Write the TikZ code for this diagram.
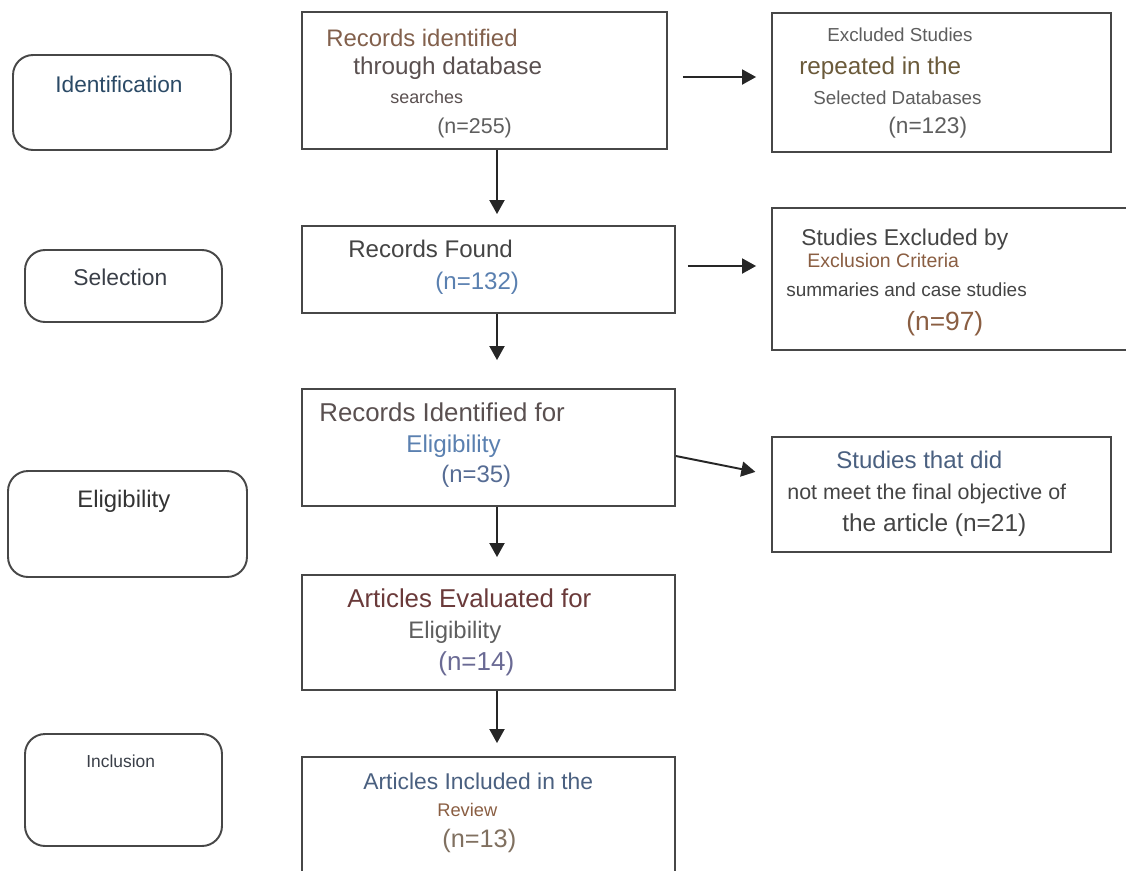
\documentclass[tikz,border=0pt]{standalone}
\usepackage{fontspec}
\setmainfont{Liberation Sans}
\usetikzlibrary{arrows.meta}

\newcommand{\fsz}[1]{\fontsize{#1pt}{#1pt}\selectfont}

\definecolor{boxline}{HTML}{474747}
\definecolor{stageblue}{HTML}{2B4A66}
\definecolor{stagegray}{HTML}{3A3F48}
\definecolor{darktext}{HTML}{444444}
\definecolor{midtext}{HTML}{5E5E5E}
\definecolor{brown}{HTML}{82604C}
\definecolor{olive}{HTML}{6B5A3A}
\definecolor{rust}{HTML}{8A5E42}
\definecolor{numblue}{HTML}{5A80B0}
\definecolor{slate}{HTML}{4A6080}
\definecolor{wine}{HTML}{6A3A3A}
\definecolor{lilac}{HTML}{6A6A94}
\definecolor{taupe}{HTML}{807060}
\definecolor{graybrown}{HTML}{5A5050}
\definecolor{softblue}{HTML}{566C94}

\tikzset{
  stage/.style={draw=boxline, line width=1.1pt, rounded corners=0.4cm, inner sep=0pt},
  record/.style={draw=boxline, line width=1.1pt, inner sep=0pt},
  txt/.style={anchor=base west, inner sep=0pt},
  arrow/.style={-{Triangle[width=0.3cm,length=0.28cm]}, line width=1.1pt, draw=black!85}
}

\begin{document}
\begin{tikzpicture}[x=0.02cm, y=-0.02cm]
    % Canvas
    \useasboundingbox (0,0) rectangle (1126,870);
    \fill[white] (0,0) rectangle (1126,870);
    \clip (0,0) rectangle (1126,870);

    % Stage boxes on the left
    \node[stage, minimum width=4.36cm, minimum height=1.9cm] (ident) at (122,102.5) {};
    \node[stage, minimum width=3.94cm, minimum height=1.44cm] (select) at (123.5,286) {};
    \node[stage, minimum width=4.78cm, minimum height=2.12cm] (elig) at (127.5,524) {};
    \node[stage, minimum width=3.94cm, minimum height=2.24cm] (incl) at (123.5,790) {};

    \node[txt, text=stageblue, font=\fsz{12.9}] (identtxt) at (55,92) {Identification};
    \node[txt, text=stagegray, font=\fsz{13}] (selecttxt) at (73,285) {Selection};
    \node[txt, text=black!80, font=\fsz{13.6}] (eligtxt) at (77,507) {Eligibility};
    \node[txt, text=stagegray, font=\fsz{9.9}] (incltxt) at (86,767) {Inclusion};

    % Main column
    \node[record, minimum width=7.3cm, minimum height=2.74cm] (b1) at (484.5,80.5) {};
    \node[record, minimum width=7.46cm, minimum height=1.74cm] (b2) at (488.5,269.5) {};
    \node[record, minimum width=7.46cm, minimum height=2.34cm] (b3) at (488.5,447.5) {};
    \node[record, minimum width=7.46cm, minimum height=2.3cm] (b4) at (488.5,632.5) {};
    \node[record, minimum width=7.46cm, minimum height=2.86cm] (b5) at (488.5,828.5) {};

    \node[txt, text=brown, font=\fsz{13.6}] (b1a) at (326,46) {Records identified};
    \node[txt, text=graybrown, font=\fsz{13.8}] (b1b) at (353,74) {through database};
    \node[txt, text=graybrown, font=\fsz{10.2}] (b1c) at (390,103) {searches};
    \node[txt, text=midtext, font=\fsz{12.2}] (b1d) at (437,133) {(n=255)};

    \node[txt, text=darktext, font=\fsz{13.7}] (b2a) at (348,257) {Records Found};
    \node[txt, text=numblue, font=\fsz{13.7}] (b2b) at (435,289) {(n=132)};

    \node[txt, text=graybrown, font=\fsz{14.7}] (b3a) at (319,421) {Records Identified for};
    \node[txt, text=numblue, font=\fsz{13.8}] (b3b) at (406,452) {Eligibility};
    \node[txt, text=softblue, font=\fsz{13.6}] (b3c) at (441,482) {(n=35)};

    \node[txt, text=wine, font=\fsz{14.7}] (b4a) at (347,607) {Articles Evaluated for};
    \node[txt, text=midtext, font=\fsz{13.6}] (b4b) at (408,638) {Eligibility};
    \node[txt, text=lilac, font=\fsz{14.8}] (b4c) at (438,670) {(n=14)};

    \node[txt, text=slate, font=\fsz{13}] (b5a) at (363,789) {Articles Included in the};
    \node[txt, text=rust, font=\fsz{10.4}] (b5b) at (437,816) {Review};
    \node[txt, text=taupe, font=\fsz{14.4}] (b5c) at (442,847) {(n=13)};

    % Exclusion boxes on the right
    \node[record, minimum width=6.78cm, minimum height=2.78cm] (r1) at (941.5,82.5) {};
    \node[record, minimum width=7.56cm, minimum height=2.84cm] (r2) at (961,279) {};
    \node[record, minimum width=6.78cm, minimum height=2.3cm] (r3) at (941.5,494.5) {};

    \node[txt, text=midtext, font=\fsz{10.7}] (r1a) at (827,41) {Excluded Studies};
    \node[txt, text=olive, font=\fsz{13.8}] (r1b) at (799,74) {repeated in the};
    \node[txt, text=midtext, font=\fsz{10.7}] (r1c) at (813,104) {Selected Databases};
    \node[txt, text=midtext, font=\fsz{12.9}] (r1d) at (888,133) {(n=123)};

    \node[txt, text=darktext, font=\fsz{13}] (r2a) at (801,245) {Studies Excluded by};
    \node[txt, text=rust, font=\fsz{11.1}] (r2b) at (807,267) {Exclusion Criteria};
    \node[txt, text=darktext, font=\fsz{10.8}] (r2c) at (786,296) {summaries and case studies};
    \node[txt, text=rust, font=\fsz{15}] (r2d) at (906,330) {(n=97)};

    \node[txt, text=slate, font=\fsz{13.7}] (r3a) at (836,468) {Studies that did};
    \node[txt, text=darktext, font=\fsz{12.2}] (r3b) at (787,499) {not meet the final objective of};
    \node[txt, text=darktext, font=\fsz{13.9}] (r3c) at (842,531) {the article (n=21)};

    % Arrows
    \coordinate (col) at (497,0);
    \draw[arrow, shorten >=0.22cm] (b1.south -| col) -- (b2.north -| col);
    \draw[arrow, shorten >=0.56cm] (b2.south -| col) -- (b3.north -| col);
    \draw[arrow, shorten >=0.34cm] (b3.south -| col) -- (b4.north -| col);
    \draw[arrow, shorten >=0.26cm] (b4.south -| col) -- (b5.north -| col);

    \draw[arrow, shorten <=0.3cm, shorten >=0.3cm] ([yshift=0.07cm]b1.east) -- ([yshift=0.07cm]b1.east -| r1.west);
    \draw[arrow, shorten <=0.24cm, shorten >=0.3cm] ([yshift=0.07cm]b2.east) -- ([yshift=0.07cm]b2.east -| r2.west);
    \draw[arrow, shorten >=0.32cm] ([yshift=-0.17cm]b3.east) -- ([yshift=0.39cm]r3.west);
\end{tikzpicture}
\end{document}
